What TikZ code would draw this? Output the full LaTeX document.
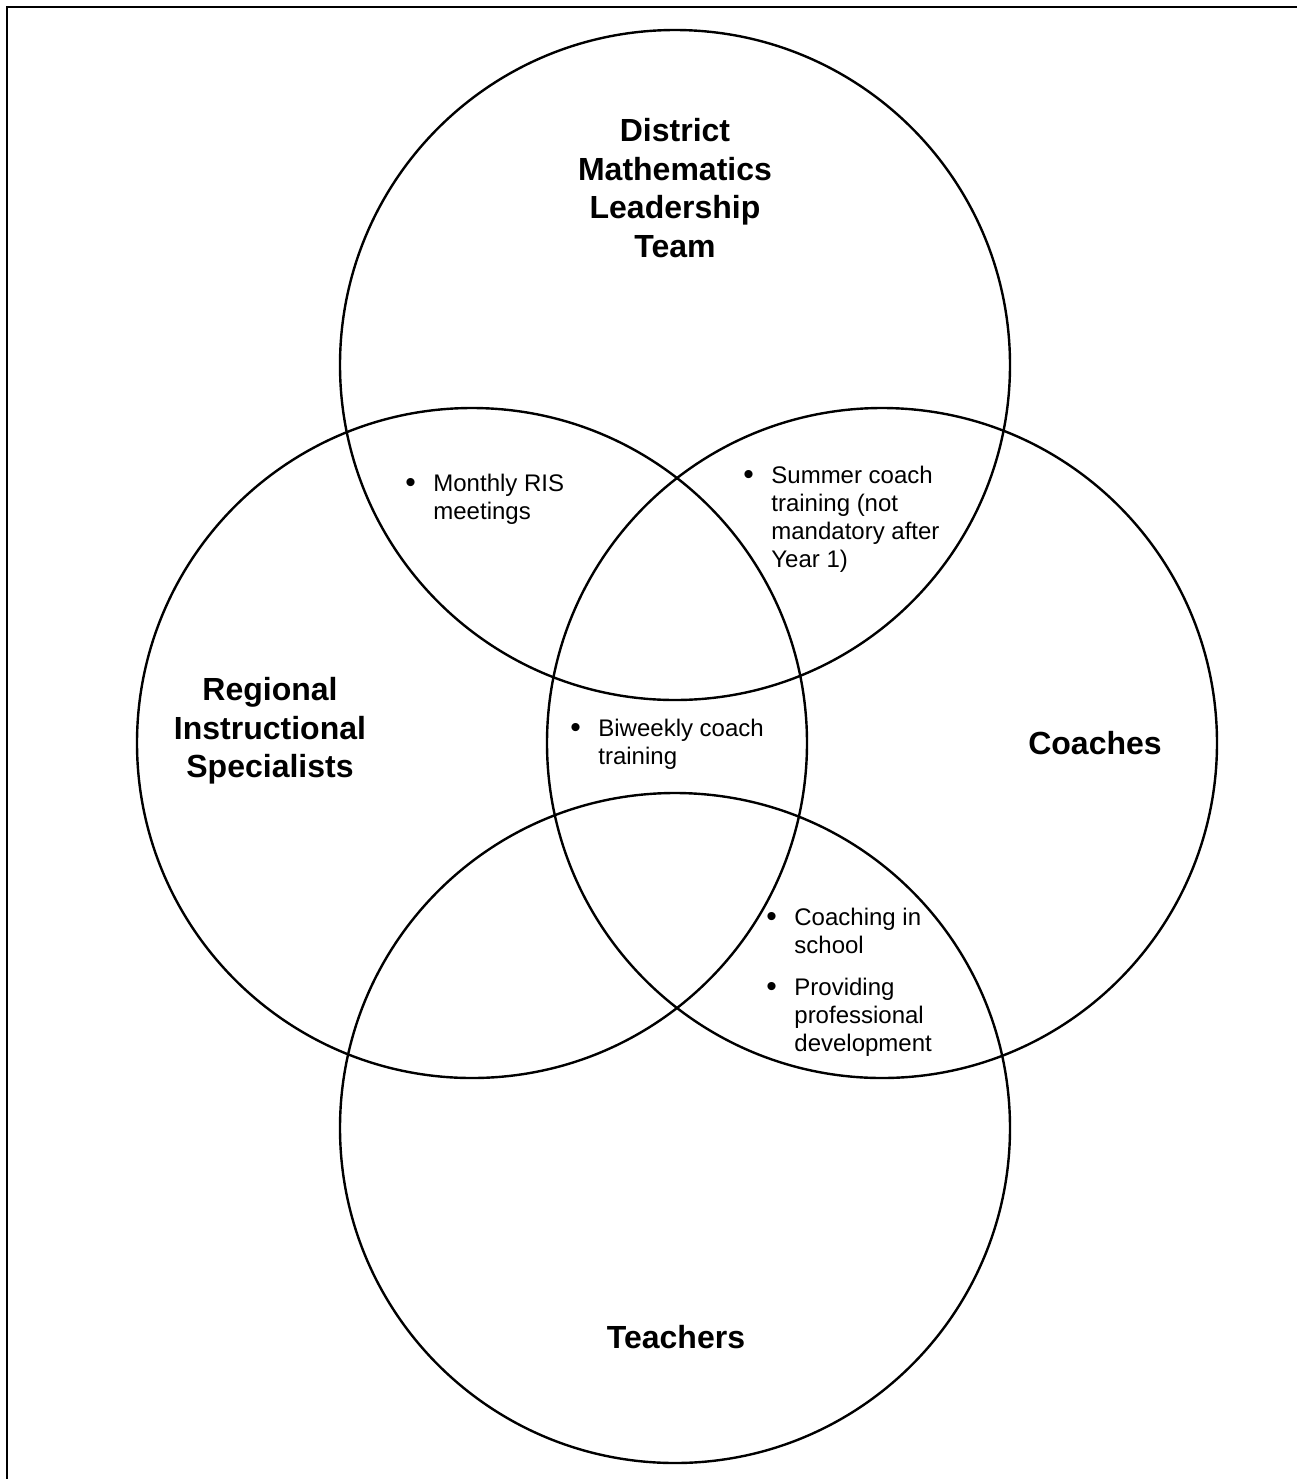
\documentclass[tikz,border=0pt]{standalone}
\usepackage{fontspec}
\setmainfont{Liberation Sans}
\usetikzlibrary{positioning}

\tikzset{
  venn/.style={draw, circle, line width=1.2pt, minimum size=335pt, inner sep=0pt},
  group/.style={font=\fontsize{16}{19.3}\selectfont\bfseries, align=center},
  note/.style={font=\fontsize{12}{14}\selectfont, anchor=base west, inner sep=0pt},
  frame/.style={line width=1.3pt}
}
\newcommand{\notedot}{\raisebox{-0.9pt}{\fontsize{15}{14}\selectfont\textbullet}}
\newcommand{\notelist}[1]{\begin{tabular}[t]{@{}p{14pt}@{}l@{}}#1\end{tabular}}

\begin{document}
\begin{tikzpicture}[x=0.5pt, y=-0.5pt]
        \useasboundingbox (0,0) rectangle (1297,1479);
        \draw[frame] (7,1479) -- (7,7) -- (1297,7);

        % the four groups
        \node[venn] (dmlt)  at (675,365)  {};
        \node[venn] (ris)   at (472,743)  {};
        \node[venn] (coach) at (882,743)  {};
        \node[venn] (teach) at (675,1128) {};

        \node[group] (dmlt-label) at (675,188) {District\\Mathematics\\Leadership\\Team};
        \node[group] (ris-label) at (270,731) {Regional\\Instructional\\Specialists};
        \node[group, anchor=base] (coach-label) at (1095,754) {Coaches};
        \node[group, anchor=base] (teach-label) at (676,1348) {Teachers};

        % overlaps
        \node[note] (ris-meet) at (405,491)
            {\notelist{\notedot & Monthly RIS\\ & meetings}};
        \node[note] (summer) at (743,483)
            {\notelist{\notedot & Summer coach\\ & training (not\\ & mandatory after\\ & Year 1)}};
        \node[note] (biweekly) at (570,736)
            {\notelist{\notedot & Biweekly coach\\ & training}};
        \node[note] (school) at (766,925)
            {\notelist{\notedot & Coaching in\\ & school\\[7pt]
                       \notedot & Providing\\ & professional\\ & development}};
    \end{tikzpicture}
\end{document}
